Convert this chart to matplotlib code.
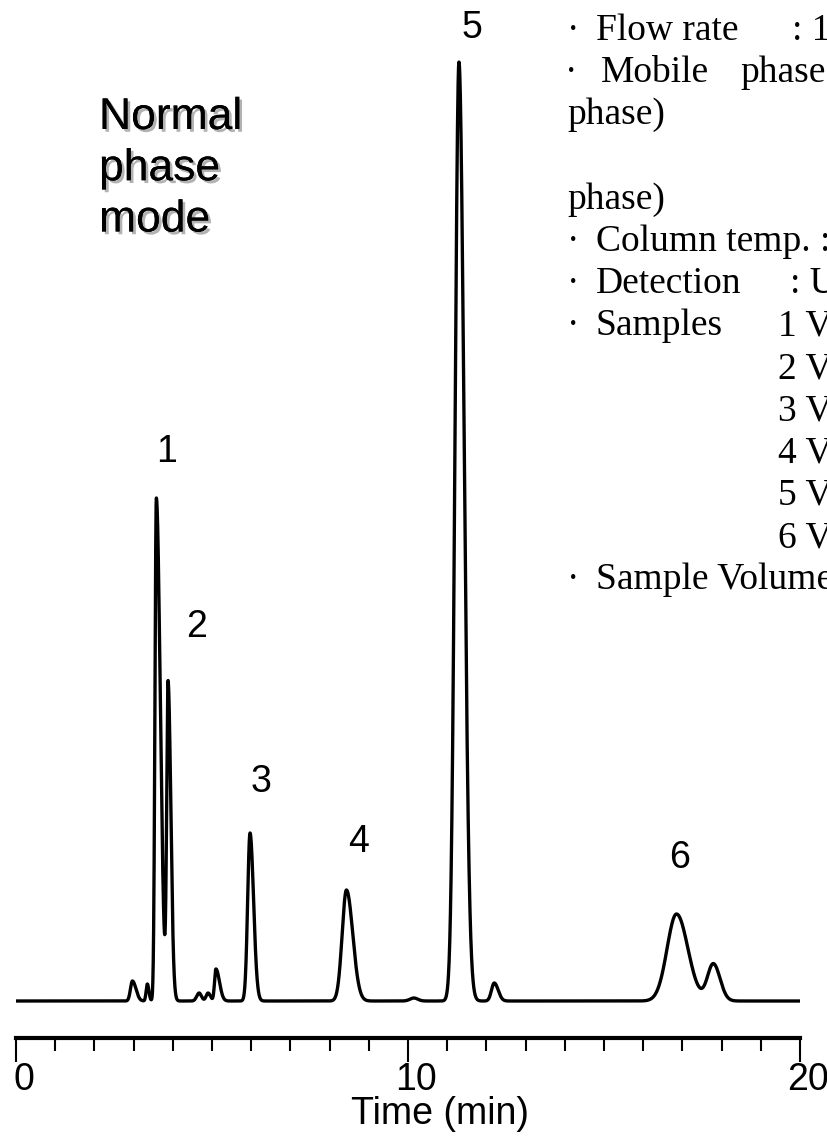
import matplotlib
matplotlib.use('Agg')
import matplotlib.pyplot as plt
import matplotlib.patheffects as pe
import matplotlib.transforms as mtransforms
from matplotlib.ticker import MultipleLocator
import numpy as np

# Peak table: retention time (min), height, left/right widths (min)
peak_times = [2.97, 3.35, 3.58, 3.88, 4.67, 4.90, 5.10, 5.97, 8.43, 10.15, 11.30, 12.20, 16.85, 17.79]
peak_heights = [20, 17, 503, 315, 8, 8, 32, 168, 111, 3, 939, 18, 87, 37]
peak_sig_left = [0.05, 0.03, 0.035, 0.035, 0.06, 0.05, 0.035, 0.06, 0.11, 0.10, 0.10, 0.07, 0.24, 0.15]
peak_sig_right = [0.09, 0.04, 0.10, 0.07, 0.06, 0.06, 0.09, 0.09, 0.16, 0.10, 0.13, 0.10, 0.29, 0.17]
peak_labels = ['1', '2', '3', '4', '5', '6']
label_pos = [(3.85, 549), (4.6, 374), (6.25, 219), (8.75, 159), (11.63, 973), (16.92, 143)]

time_start, time_end = 0, 20

line_y = [31, 73, 115, 200, 242, 284, 326, 369, 411, 453, 495, 538, 580]
conditions = [
    (573, line_y[0], '·'), (596, line_y[0], 'Flow rate'), (792, line_y[0], ': 1'),
    (571, line_y[1], '·'), (601, line_y[1], 'Mobile'), (740, line_y[1], 'phase'),
    (567, line_y[2], 'phase)'),
    (567, line_y[3], 'phase)'),
    (573, line_y[4], '·'), (596, line_y[4], 'Column temp. :'),
    (573, line_y[5], '·'), (596, line_y[5], 'Detection'), (790, line_y[5], ': U'),
    (573, line_y[6], '·'), (596, line_y[6], 'Samples'),
    (778, line_y[6], '1 V'), (778, line_y[7], '2 V'), (778, line_y[8], '3 V'),
    (778, line_y[9], '4 V'), (778, line_y[10], '5 V'), (778, line_y[11], '6 V'),
    (573, line_y[12], '·'), (596, line_y[12], 'Sample Volume'),
]


def build_trace(t):
    """Sum of asymmetric gaussian peaks taken from the peak table."""
    y = np.zeros_like(t)
    for rt, h, sl, sr in zip(peak_times, peak_heights, peak_sig_left, peak_sig_right):
        sig = np.where(t < rt, sl, sr)
        y += h * np.exp(-0.5 * ((t - rt) / sig) ** 2)
    return y


W, H = 827, 1144
fig = plt.figure(figsize=(W / 100, H / 100), dpi=100)
ax = fig.add_axes([16 / W, 1 - 1038 / H, (800 - 16) / W, (1038 - 40) / H])

t = np.linspace(time_start, time_end, 6000)
ax.plot(t, build_trace(t), color='black', lw=2.4, solid_joinstyle='round')

ax.set_xlim(time_start, time_end)
ax.set_ylim(-37, 961)
for side in ['top', 'left', 'right']:
    ax.spines[side].set_visible(False)
ax.spines['bottom'].set_linewidth(3)
ax.set_yticks([])
ax.xaxis.set_major_locator(MultipleLocator(10))
ax.xaxis.set_minor_locator(MultipleLocator(1))
ax.tick_params(axis='x', which='major', direction='out', length=17, width=1.5, pad=0,
               labelsize=27)
ax.tick_params(axis='x', which='minor', direction='out', length=9, width=1.5)
shift = mtransforms.ScaledTranslation(8 / 100, 0, fig.dpi_scale_trans)
for lab in ax.get_xticklabels():
    lab.set_family('Liberation Sans')
    lab.set_transform(lab.get_transform() + shift)
ax.set_xlabel('Time (min)', fontsize=27, family='Liberation Sans')
ax.xaxis.set_label_coords((440 - 16) / 784, -58 / 998)
ax.patch.set_visible(False)

for lab, (x, y) in zip(peak_labels, label_pos):
    ax.text(x, y, lab, fontsize=27, family='Liberation Sans', ha='center', va='center')

fig.text(99 / W, 1 - 97 / H, 'Normal\nphase\nmode', fontsize=32, family='Liberation Sans',
         ha='left', va='top', linespacing=1.32,
         path_effects=[pe.withSimplePatchShadow(offset=(2, -2), shadow_rgbFace='gray', alpha=0.6),
                       pe.Normal()])

for x, y, s in conditions:
    fig.text(x / W, 1 - y / H, s, fontsize=27, family='Liberation Serif',
             ha='center' if s == '·' else 'left', va='center')

fig.savefig('out.png', dpi=100)
